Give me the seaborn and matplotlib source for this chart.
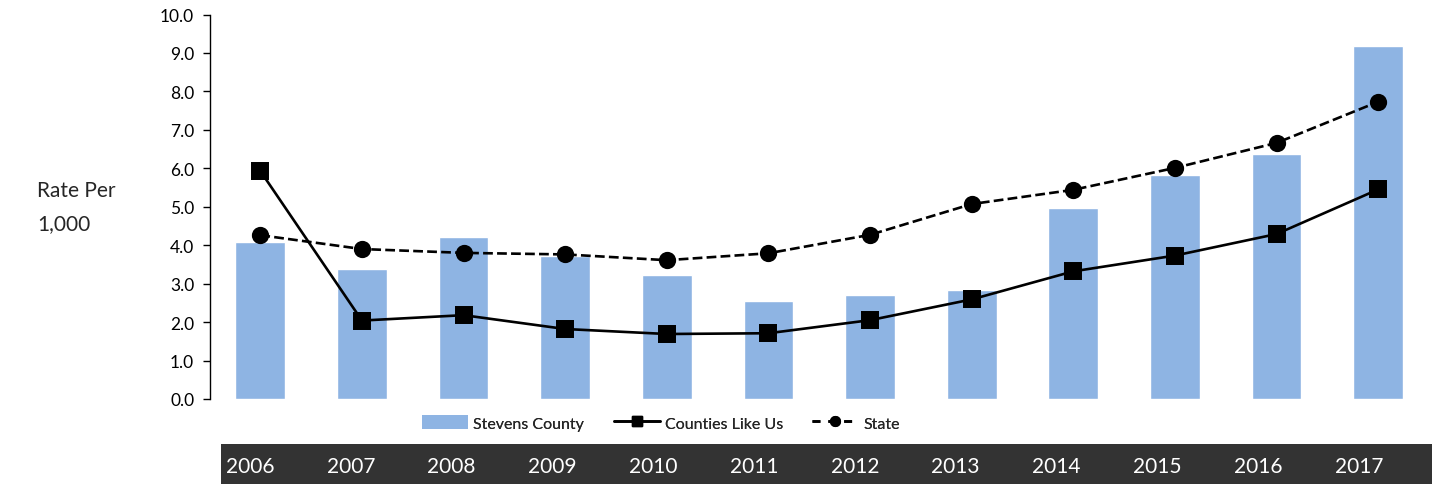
import matplotlib
matplotlib.use("Agg")
import matplotlib.pyplot as plt
import seaborn as sns
import pandas as pd
from matplotlib.patches import Patch
from matplotlib.lines import Line2D

years = ["2006", "2007", "2008", "2009", "2010", "2011",
         "2012", "2013", "2014", "2015", "2016", "2017"]
stevens = [4.08, 3.38, 4.22, 3.73, 3.22, 2.55, 2.70, 2.83, 4.96, 5.83, 6.37, 9.17]
counties = [5.93, 2.04, 2.18, 1.82, 1.69, 1.71, 2.05, 2.59, 3.32, 3.73, 4.29, 5.45]
state = [4.26, 3.90, 3.80, 3.76, 3.61, 3.79, 4.27, 5.07, 5.44, 6.01, 6.66, 7.73]
series_names = ["Stevens County", "Counties Like Us", "State"]
y_ticks = [i * 1.0 for i in range(11)]

df = pd.DataFrame({"year": years, "stevens": stevens,
                   "counties": counties, "state": state})

sns.set_theme(style="white")
plt.rcParams["font.family"] = ["Lato", "DejaVu Sans"]

bar_color = "#8EB4E3"
fig = plt.figure(figsize=(14.38, 4.85), dpi=100)
ax = fig.add_axes([0.1457, 0.1753, 0.848, 0.7927])

sns.barplot(data=df, x="year", y="stevens", color=bar_color, width=0.49,
            saturation=1, ax=ax)
sns.pointplot(data=df, x="year", y="counties", color="black", markers="s",
              linestyles="-", markersize=11.5, linewidth=1.9, ax=ax)
sns.pointplot(data=df, x="year", y="state", color="black", markers="o",
              linestyles="--", markersize=11, linewidth=1.9, ax=ax)
ax.lines[-1].set_dashes((4.5, 3))

ax.set_xlim(-0.5, 11.5)
ax.set_ylim(0, 10)
ax.set_yticks(y_ticks)
ax.set_yticklabels([f"{v:.1f}" for v in y_ticks], fontsize=12.5, color="black")
ax.set_xticks([])
ax.set_xlabel("")
ax.set_ylabel("")
for s in ["top", "right", "bottom"]:
    ax.spines[s].set_visible(False)
ax.spines["left"].set_color("black")
ax.spines["left"].set_linewidth(1)
ax.tick_params(axis="y", left=True, length=5, width=1, color="black", pad=6)

fig.text(0.0257, 0.607, "Rate Per", fontsize=15, va="center", ha="left")
fig.text(0.0257, 0.537, "1,000", fontsize=15, va="center", ha="left")

# legend: one entry per block, placed like the original
handles = [
    Patch(facecolor=bar_color, edgecolor="none"),
    Line2D([], [], color="black", lw=1.9, marker="s", markersize=7),
    Line2D([], [], color="black", lw=1.9, ls="--", dashes=(3, 3), marker="o", markersize=7),
]
legend_x = [0.2935, 0.427, 0.5647]
for h, name, lx in zip(handles, series_names, legend_x):
    leg = fig.legend([h], [name], loc="center left", bbox_to_anchor=(lx, 0.1258),
                     frameon=False, fontsize=11.5, handlelength=2.9,
                     handletextpad=0.3, borderpad=0, borderaxespad=0,
                     handleheight=0.9)
    fig.add_artist(leg)

band = fig.add_axes([0.1537, 0.0, 0.8421, 0.0825])
band.set_facecolor("#333333")
band.set_xlim(-0.288, 11.726)
band.set_ylim(0, 1)
band.set_xticks([])
band.set_yticks([])
for s in band.spines.values():
    s.set_visible(False)
for i, y in enumerate(years):
    band.text(i, 0.45, y, color="white", fontsize=15, ha="center", va="center")

fig.savefig("out.png", dpi=100, facecolor="white")
